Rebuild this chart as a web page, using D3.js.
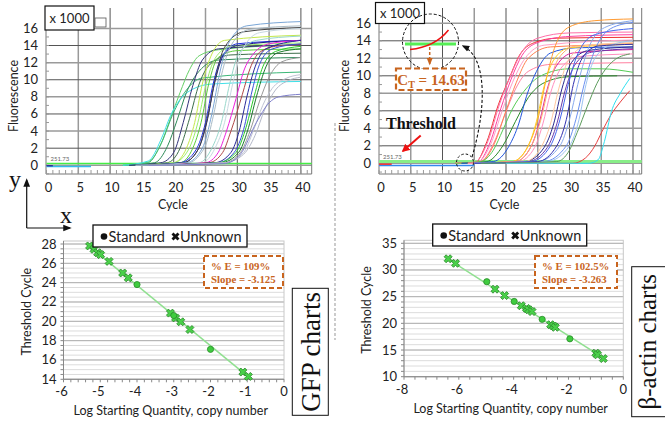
<!DOCTYPE html>
<html>
<head>
<meta charset="utf-8">
<script src="https://cdn.jsdelivr.net/npm/d3@7"></script>
<style>
  body { margin: 0; background: #fff; }
  svg { display: block; }
  text { font-family: Lato, "Open Sans", sans-serif; fill: #222; }
  .serif { font-family: "Liberation Serif", "DejaVu Serif", serif; }
</style>
</head>
<body>
<svg width="665" height="429"></svg>
<script>
// ---- amplification plots ----
const cycleTicks = [0, 5, 10, 15, 20, 25, 30, 35, 40];
const fluoTicks = [0, 2, 4, 6, 8, 10, 12, 14, 16];
const thresholdValue = 0.2;
const thresholdLabel = "251.73";

// GFP curves, [cycle, fluorescence x1000]
const gfpCurves = [
  { c: "#66d066", p: [[12,0],[16,0.4],[18,2.5],[19.5,5.5],[21,8.5],[22.5,11.2],[24,12.8],[27,13.5],[40,14.1]] },
  { c: "#3cb878", p: [[12,0],[16,0.3],[18,2.5],[20,6.2],[22,8.8],[24.5,10.2],[40,10.9]] },
  { c: "#40e0e8", p: [[12,0],[16,0.5],[18,3],[19.5,5.8],[21,7.7],[23,8.9],[26,9.5],[40,9.8]] },
  { c: "#2e8b57", p: [[13,0],[17,0.3],[19,2.2],[20.5,5.2],[22,8.5],[24,11],[27,12.3],[40,12.6]] },
  { c: "#33337a", p: [[13,0],[18,0.3],[20,1.5],[21.5,5],[23,9.3],[24.5,12.3],[27,13.6],[40,14.1]] },
  { c: "#3d6e4a", p: [[14,0],[19,0.3],[21,2],[22.5,5.5],[24,9.5],[26,12],[29,12.9],[40,13.1]] },
  { c: "#c4e84a", p: [[14,0],[20,0.3],[22,2],[23.3,5],[24.5,9.5],[26,13],[28,14.6],[40,15.2]] },
  { c: "#9aee6a", p: [[14,0],[20,0.3],[22.3,1.8],[23.8,5],[25,9.2],[26.5,12.5],[29,13.9],[40,14.3]] },
  { c: "#5acc3a", p: [[14,0],[21,0.3],[23,2],[24.3,5],[25.5,9.5],[27,12.6],[30,13.4],[40,13.6]] },
  { c: "#2030e0", p: [[14,0],[21,0.3],[23.5,1.8],[25,5],[26.2,9.5],[27.5,12.6],[30,14.2],[40,14.6]] },
  { c: "#1a1a80", p: [[14,0],[21.5,0.3],[23.8,1.8],[25.2,5],[26.4,9.5],[27.8,12.8],[30,14],[40,14.6]] },
  { c: "#444444", p: [[14,0],[21.5,0.3],[23.8,1.8],[25.3,5.5],[26.5,10],[28,13.8],[31,15.6],[40,16.1]] },
  { c: "#7aa6d6", p: [[14,0],[22,0.3],[24.5,2],[26,6],[27.3,11],[28.8,14.5],[31.5,16.3],[40,16.8]] },
  { c: "#aabbc6", p: [[14,0],[22,0.2],[24.8,2],[26.3,6],[27.5,10.5],[29,14],[32,15.9],[40,16.3]] },
  { c: "#9ad8cc", p: [[16,0],[24,0.3],[26,2],[27.5,5],[28.8,9.5],[30.2,13],[33,14.6],[40,15.1]] },
  { c: "#c8d8e0", p: [[16,0],[24.5,0.3],[26.5,2],[28,5],[29.3,9.6],[30.8,13.5],[33.5,15.5],[40,16]] },
  { c: "#ee22dd", p: [[16,0],[25,0.3],[27,1.5],[28.3,4],[29.8,7.8],[31,11],[32.5,13],[35,14.2],[40,14.6]] },
  { c: "#b04848", p: [[16,0],[25.5,0.3],[27.7,1.5],[29,4],[30.8,8.3],[32,11.3],[33.5,13.2],[36,13.9],[40,14.1]] },
  { c: "#2a2a9a", p: [[16,0],[26.5,0.3],[29,1.5],[30.3,4],[31.5,8],[32.8,11.5],[34.5,13.6],[40,14.6]] },
  { c: "#3850d8", p: [[16,0],[27,0.3],[29.5,1.5],[31,4.2],[32.2,8.3],[33.5,11.8],[35.5,13.6],[40,14.2]] },
  { c: "#2ccc2c", p: [[16,0],[27,0.3],[29.8,1.5],[31.2,4],[32.7,8.2],[34,11.5],[36,13.3],[40,13.9]] },
  { c: "#1d7a2c", p: [[16,0],[27.5,0.3],[30.2,1.5],[31.6,4],[33,8],[34.5,11.5],[36.5,13.2],[40,13.6]] },
  { c: "#999999", p: [[16,0],[28,0.3],[30.5,1.5],[32,4],[33.5,7.5],[35,10.3],[37,12.1],[40,12.6]] },
  { c: "#c0c4d4", p: [[16,0],[28,0.3],[31,1.5],[32.5,4],[34,7],[35.5,9],[37.5,10.1],[40,10.6]] },
  { c: "#b4b8c8", p: [[16,0],[28,0.3],[31,1.3],[32.8,3.5],[34.3,6.5],[36,8.8],[38,9.9],[40,10.3]] },
  { c: "#8080cc", p: [[16,0],[28,0.2],[30.5,1.3],[33,5],[35,7.3],[36.5,8],[40,8.3]] }
];
const gfpBaseline = [
  { c: "#33bbee", p: [[0,-0.15],[7,-0.15]] },
  { c: "#333399", p: [[0,-0.05],[1,-0.05]] }
];

// beta-actin curves
const actinCurves = [
  { c: "#ee3030", p: [[12,0],[15,0],[17,2.5],[18.8,6.7],[20.4,9.5],[22,12.2],[24.5,13.8],[28,14.3],[40,14.4]] },
  { c: "#ff6fa8", p: [[12,0],[15,0.1],[17.2,2.6],[19,6.8],[20.6,9.8],[22.3,12.5],[25,14.3],[30,14.9],[40,15]] },
  { c: "#ff40a0", p: [[12,0],[15.5,0.1],[17.5,2.4],[19.2,6.3],[20.8,9.6],[22.5,12.3],[25,13.8],[30,14.5],[40,14.7]] },
  { c: "#ffa0c8", p: [[12,0],[15.5,0.1],[17.6,2.2],[19.4,6],[21,9.2],[23,12],[26,13.5],[40,14.1]] },
  { c: "#ff80a0", p: [[12,0],[16,0.2],[18,2.2],[19.8,5.5],[21.5,8.5],[23.5,10.5],[27,11.3],[40,11.5]] },
  { c: "#ff8050", p: [[12,0],[16,0.2],[18.2,2.3],[20,6],[21.6,9.2],[23.5,12],[27,13.3],[40,13.6]] },
  { c: "#55cc55", p: [[12,0],[16,0.2],[18,1.5],[19.5,3.8],[21,6.2],[22.8,8.2],[25.5,10],[30,10.8],[35,10.8],[40,10.4]] },
  { c: "#2a8a2a", p: [[13,0],[17,0.2],[19.5,2],[21.5,4.8],[23.5,7.5],[26,9.2],[30,9.9],[37.5,10]] },
  { c: "#2255dd", p: [[13,0],[18,0.2],[20.5,2],[22,4.5],[23.2,7.6],[24.8,10.5],[27,12.6],[31,13.2],[40,13.3]] },
  { c: "#ff9a30", p: [[14,0],[21,0.2],[23.5,2],[25,5],[26.3,9.5],[27.8,13.5],[30,15.6],[34,16.3],[40,16.5]] },
  { c: "#ffd020", p: [[14,0],[21,0.2],[23.5,2],[24.8,4.8],[26,8.8],[27.5,11.8],[30,13.2],[40,13.6]] },
  { c: "#e0209a", p: [[14,0],[21.5,0.2],[24,2],[25.3,4.8],[26.5,8.5],[28,11.2],[30.5,12.6],[40,13]] },
  { c: "#ffb070", p: [[14,0],[21.5,0.2],[24,2],[25.5,5],[26.8,9],[28.3,12],[31,13.4],[40,13.7]] },
  { c: "#ff90c0", p: [[14,0],[22,0.2],[24.5,1.8],[25.8,4.5],[27,8],[28.8,11],[31.5,12.2],[40,12.5]] },
  { c: "#28288e", p: [[15,0],[23,0.2],[26,1.8],[27.5,4.5],[28.8,8.5],[30.3,11.5],[33,12.9],[40,13.3]] },
  { c: "#6a3aaa", p: [[15,0],[23.5,0.2],[26.5,1.8],[28,4.5],[29.3,8.3],[30.8,11.2],[33.5,12.7],[40,13.1]] },
  { c: "#ffc8a0", p: [[15,0],[23,0.2],[25.5,1.8],[27,4.5],[28.3,8.5],[30,12],[33,13.5],[40,13.8]] },
  { c: "#4466ee", p: [[15,0],[24,0.2],[27,2],[28.5,5],[29.8,9],[31.3,12.5],[34,14.7],[40,15.4]] },
  { c: "#88aaee", p: [[15,0],[25,0.2],[28.5,2],[30,5],[31.3,9],[32.8,12.8],[35.5,15.5],[40,16.3]] },
  { c: "#6a8ff0", p: [[15,0],[26,0.2],[29.5,2],[31,5],[32.3,9],[33.8,12.6],[36.5,15.4],[40,16.1]] },
  { c: "#9cc4f0", p: [[15,0],[26.5,0.2],[30,2],[31.5,5],[32.6,9],[34,12],[36.5,13.5],[40,14]] },
  { c: "#3030b0", p: [[15,0],[25,0.2],[28,2],[29.5,5],[30.6,9],[32,12],[34.5,13.4],[40,13.6]] },
  { c: "#5c9c5c", p: [[16,0],[28,0.2],[30,1.5],[31.2,3.5],[32.8,6.5],[34.3,9.1],[36.9,11.7],[39.5,12.5]] },
  { c: "#e84040", p: [[20,0],[30.5,0],[32.5,0.6],[34,2],[35.1,3.6],[36.5,5.5],[38,7],[39.5,8.3]] },
  { c: "#30e0f0", p: [[20,0],[33,0],[34.5,0.4],[35.5,2.5],[36.6,5.9],[38,8],[39.5,9.7]] }
];
const actinBaseline = [
  { c: "#3388ee", p: [[0,-0.25],[15,-0.25]] },
  { c: "#ee3030", p: [[0,-0.1],[2,-0.1]] }
];

// ---- standard curves ----
const gfpLogTicks = [-6, -5, -4, -3, -2, -1, 0];
const gfpCtTicks = [14, 16, 18, 20, 22, 24, 26, 28];
const gfpStandards = [[-4, 23.8], [-3, 20.6], [-2, 17.1]];
const gfpUnknowns = [[-5.29,27.8],[-5.17,27.45],[-5.07,27.1],[-4.99,26.9],[-4.76,26.2],[-4.39,25.0],[-4.24,24.5],
  [-3.09,20.85],[-2.95,20.35],[-2.81,19.95],[-2.56,19.15],[-1.12,14.75],[-0.97,14.3]];
const gfpSlope = -3.125;
const gfpEff = "109%";

const actinLogTicks = [-8, -6, -4, -2, 0];
const actinCtTicks = [10, 15, 20, 25, 30, 35];
const actinStandards = [[-4.98, 27.8], [-3.98, 24.1], [-2.96, 20.75], [-1.95, 17.1]];
const actinUnknowns = [[-6.39,32.1],[-6.12,31.25],[-4.68,26.4],[-4.33,25.2],[-3.72,23.3],[-3.53,22.8],[-3.45,22.55],
  [-3.33,22.2],[-2.65,19.75],[-2.55,19.5],[-2.48,19.25],[-1.0,14.4],[-0.94,14.1],[-0.73,13.4]];
const actinSlope = -3.263;
const actinEff = "102.5%";

const svg = d3.select("svg");
const orange = "#c8641e";

svg.append("defs").html(`
  <marker id="blk" viewBox="0 0 10 10" refX="8" refY="5" markerWidth="7" markerHeight="7" orient="auto">
    <path d="M0,1 L10,5 L0,9 z" fill="#111"/></marker>
  <marker id="red" viewBox="0 0 10 10" refX="8" refY="5" markerWidth="4" markerHeight="4" orient="auto">
    <path d="M0,0 L10,5 L0,10 z" fill="#ee1111"/></marker>
  <marker id="org" viewBox="0 0 10 10" refX="8" refY="5" markerWidth="5" markerHeight="5" orient="auto">
    <path d="M0,1 L10,5 L0,9 z" fill="${orange}"/></marker>`);

function ampChart(o) {
  const g = svg.append("g");
  const x = d3.scaleLinear().domain([0, 40]).range([o.x0, o.x40]);
  const y = d3.scaleLinear().domain([0, 16]).range([o.y0, o.y16]);

  g.selectAll(".vg").data(cycleTicks.slice(1)).join("line")
    .attr("x1", d => x(d)).attr("x2", d => x(d))
    .attr("y1", o.top).attr("y2", o.bottom)
    .attr("stroke", (d, i) => i % 2 ? "#555" : "#999").attr("stroke-width", (d, i) => i % 2 ? 1 : 1.5);
  g.selectAll(".hg").data(fluoTicks).join("line")
    .attr("x1", o.left).attr("x2", o.right)
    .attr("y1", d => y(d)).attr("y2", d => y(d))
    .attr("stroke", (d, i) => i % 2 ? "#555" : "#9a9a9a").attr("stroke-width", (d, i) => i % 2 ? 1 : 1.5);

  // frame
  g.append("line").attr("x1", o.left).attr("x2", o.left).attr("y1", o.top).attr("y2", o.bottom).attr("stroke", "#777");
  g.append("line").attr("x1", o.right).attr("x2", o.right).attr("y1", o.top).attr("y2", o.bottom).attr("stroke", "#777");
  g.append("line").attr("x1", o.left).attr("x2", o.right).attr("y1", o.bottom).attr("y2", o.bottom).attr("stroke", "#777");
  g.selectAll(".mt").data(d3.range(0, 42)).join("line")
    .attr("x1", d => x(d)).attr("x2", d => x(d))
    .attr("y1", o.bottom).attr("y2", o.bottom - 4).attr("stroke", "#999");
  g.selectAll(".my").data(d3.range(-1, 18)).join("line")
    .attr("x1", o.left).attr("x2", o.left + 3)
    .attr("y1", d => y(d)).attr("y2", d => y(d)).attr("stroke", "#999");

  // threshold
  g.append("line").attr("x1", x(0)).attr("x2", o.right)
    .attr("y1", y(thresholdValue)).attr("y2", y(thresholdValue))
    .attr("stroke", o.thrColor).attr("stroke-width", o.thrWidth);
  g.append("text").attr("x", x(0) + 4).attr("y", y(0) - 4)
    .attr("font-size", 6).style("fill", "#666").text(thresholdLabel);

  const line = d3.line().x(d => x(d[0])).y(d => y(d[1])).curve(d3.curveMonotoneX);
  g.selectAll(".base").data(o.baseline).join("path")
    .attr("d", d => line(d.p)).attr("fill", "none").attr("stroke", d => d.c).attr("stroke-width", 1.5);
  g.selectAll(".curve").data(o.curves).join("path")
    .attr("d", d => line(d.p)).attr("fill", "none").attr("stroke", d => d.c).attr("stroke-width", 1);

  g.selectAll(".yl").data(fluoTicks).join("text")
    .attr("x", o.left - 8).attr("y", d => y(d) + 4.5)
    .attr("text-anchor", "end").attr("font-size", 13).text(d => d);
  g.selectAll(".xl").data(cycleTicks).join("text")
    .attr("x", d => x(d) + 2).attr("y", o.bottom + 18)
    .attr("text-anchor", "middle").attr("font-size", 13).text(d => d);
  g.append("text").attr("x", (o.left + o.right) / 2 - 6).attr("y", o.bottom + 35)
    .attr("text-anchor", "middle").attr("font-size", 12.5).text("Cycle");
  g.append("text").attr("transform", `translate(${o.labelX},${(o.top + o.bottom) / 2 + 5}) rotate(-90)`)
    .attr("text-anchor", "middle").attr("font-size", 12.5).text("Fluorescence");

  // x 1000 box
  g.append("rect").attr("x", o.boxX).attr("y", o.boxY).attr("width", 49).attr("height", o.boxH)
    .attr("fill", "#fff").attr("stroke", "#111").attr("stroke-width", 1.2);
  g.append("text").attr("x", o.boxX + 24.5).attr("y", o.boxY + o.boxH / 2 + 4.5)
    .attr("text-anchor", "middle").attr("font-size", 13).text("x 1000");
  return { x, y };
}

const left = ampChart({
  x0: 46.5, x40: 300.9, y0: 165.3, y16: 28.4, left: 46, right: 311.7, top: 8, bottom: 174,
  curves: gfpCurves, baseline: gfpBaseline, thrColor: "#44ee44", thrWidth: 1.5, labelX: 18,
  boxX: 45, boxY: 6, boxH: 24
});
svg.append("rect").attr("x", 95).attr("y", 18).attr("width", 11).attr("height", 9)
  .attr("fill", "#fff").attr("stroke", "#555").attr("stroke-width", 0.8);

const right = ampChart({
  x0: 379, x40: 633, y0: 163.3, y16: 23.3, left: 379, right: 641.7, top: 8, bottom: 174,
  curves: actinCurves, baseline: actinBaseline, thrColor: "#88ee88", thrWidth: 3, labelX: 349,
  boxX: 375.5, boxY: 2.5, boxH: 21
});

// ---- C_T annotation on the beta-actin plot ----
const ann = svg.append("g");
ann.append("circle").attr("cx", 430.5).attr("cy", 42).attr("r", 28)
  .attr("fill", "none").attr("stroke", "#111").attr("stroke-dasharray", "3,2");
ann.append("line").attr("x1", 405).attr("x2", 456).attr("y1", 44).attr("y2", 44)
  .attr("stroke", "#55ee55").attr("stroke-width", 3);
ann.append("path").attr("d", "M410,49.5 Q435,47 448.5,30").attr("fill", "none")
  .attr("stroke", "#ee1111").attr("stroke-width", 1.5);
ann.append("line").attr("x1", 429.7).attr("x2", 429.7).attr("y1", 47).attr("y2", 64)
  .attr("stroke", orange).attr("stroke-width", 1.5).attr("stroke-dasharray", "3,2").attr("marker-end", "url(#org)");
ann.append("rect").attr("x", 396).attr("y", 68.5).attr("width", 70).attr("height", 21.5)
  .attr("fill", "#fff").attr("stroke", orange).attr("stroke-width", 2.2).attr("stroke-dasharray", "6,3");
const ct = ann.append("text").attr("class", "serif").attr("x", 431).attr("y", 84.5)
  .attr("text-anchor", "middle").attr("font-size", 15).attr("font-weight", "bold").style("fill", orange);
ct.append("tspan").text("C");
ct.append("tspan").attr("font-size", 10).attr("dy", 3).text("T");
ct.append("tspan").attr("dy", -3).text(" = 14.63");
ann.append("circle").attr("cx", 465).attr("cy", 162.5).attr("r", 8.5)
  .attr("fill", "none").attr("stroke", "#111").attr("stroke-dasharray", "2.5,2");
ann.append("path").attr("d", "M472,157 C486,110 488,58 463,46").attr("fill", "none")
  .attr("stroke", "#111").attr("stroke-width", 1.1).attr("stroke-dasharray", "3,2").attr("marker-end", "url(#blk)");
ann.append("text").attr("class", "serif").attr("x", 421).attr("y", 128.5)
  .attr("text-anchor", "middle").attr("font-size", 16).attr("font-weight", "bold").style("fill", "#111").text("Threshold");
ann.append("line").attr("x1", 420.7).attr("y1", 135.5).attr("x2", 403).attr("y2", 151)
  .attr("stroke", "#ee1111").attr("stroke-width", 2).attr("marker-end", "url(#red)");

// divider
svg.append("line").attr("x1", 335).attr("x2", 335).attr("y1", 123).attr("y2", 340)
  .attr("stroke", "#aaa").attr("stroke-width", 1.2).attr("stroke-dasharray", "3,2");

// axis sketch
svg.append("path").attr("d", "M26.7,228 L26.7,180").attr("stroke", "#111").attr("stroke-width", 1.2).attr("marker-end", "url(#blk)");
svg.append("path").attr("d", "M26.7,228 L70,228").attr("stroke", "#111").attr("stroke-width", 1.2).attr("marker-end", "url(#blk)");
svg.append("text").attr("class", "serif").attr("x", 15).attr("y", 187).attr("text-anchor", "middle")
  .attr("font-size", 24).style("fill", "#111").text("y");
svg.append("text").attr("class", "serif").attr("x", 66).attr("y", 223).attr("text-anchor", "middle")
  .attr("font-size", 24).style("fill", "#111").text("x");

// ---- standard curve panels ----
function stdChart(o) {
  const g = svg.append("g");
  const x = d3.scaleLinear().domain(o.xd).range([o.left, o.right]);
  const y = d3.scaleLinear().domain(o.yd).range([o.bottom, o.top]);
  g.selectAll(".minor").data(d3.range(o.yd[0], o.yd[1] + 0.01, o.minor)).join("line")
    .attr("x1", o.left).attr("x2", o.right).attr("y1", d => y(d)).attr("y2", d => y(d))
    .attr("stroke", "#dcdcdc").attr("stroke-width", 1);
  g.selectAll(".major").data(o.yTicks).join("line")
    .attr("x1", o.left).attr("x2", o.right).attr("y1", d => y(d)).attr("y2", d => y(d))
    .attr("stroke", "#b0b0b0").attr("stroke-width", 1);
  g.append("rect").attr("x", o.left).attr("y", o.top - 3).attr("width", o.right - o.left)
    .attr("height", o.bottom - o.top + 3).attr("fill", "none").attr("stroke", "#c8c8c8");
  g.append("line").attr("x1", o.left).attr("x2", o.left).attr("y1", o.top - 3).attr("y2", o.bottom).attr("stroke", "#888");
  g.append("line").attr("x1", o.left).attr("x2", o.right).attr("y1", o.bottom).attr("y2", o.bottom).attr("stroke", "#888");
  g.selectAll(".ytk").data(d3.range(o.yd[0], o.yd[1] + 0.01, o.minor)).join("line")
    .attr("x1", o.left - 3).attr("x2", o.left).attr("y1", d => y(d)).attr("y2", d => y(d)).attr("stroke", "#888");
  g.selectAll(".xtk").data(d3.range(o.xd[0], o.xd[1] + 0.01, o.xMinor)).join("line")
    .attr("x1", d => x(d)).attr("x2", d => x(d)).attr("y1", o.bottom).attr("y2", o.bottom + 3).attr("stroke", "#888");

  // regression line with the reported slope, through the centroid of the points
  const all = o.standards.concat(o.unknowns);
  const mx = d3.mean(all, d => d[0]), my = d3.mean(all, d => d[1]);
  const ex = d3.extent(all, d => d[0]);
  g.append("line").attr("x1", x(ex[0])).attr("x2", x(ex[1]))
    .attr("y1", y(my + o.slope * (ex[0] - mx))).attr("y2", y(my + o.slope * (ex[1] - mx)))
    .attr("stroke", "#90e090").attr("stroke-width", 1.5);

  const xs = d3.symbol(d3.symbolCross).size(40);
  g.selectAll(".unk").data(o.unknowns).join("path")
    .attr("d", xs).attr("transform", d => `translate(${x(d[0])},${y(d[1])}) rotate(45)`)
    .attr("fill", "#4ad04a").attr("stroke", "#2a8a2a").attr("stroke-width", 0.8);
  g.selectAll(".std").data(o.standards).join("circle")
    .attr("cx", d => x(d[0])).attr("cy", d => y(d[1])).attr("r", 3.1)
    .attr("fill", "#3fcc3f").attr("stroke", "#2a8a2a").attr("stroke-width", 0.8);

  g.selectAll(".yl").data(o.yTicks).join("text")
    .attr("x", o.left - 7).attr("y", d => y(d) + 4.5).attr("text-anchor", "end").attr("font-size", 13).text(d => d);
  g.selectAll(".xl").data(o.xTicks).join("text")
    .attr("x", d => x(d) - (d < 0 ? 2 : 0)).attr("y", o.bottom + 17).attr("text-anchor", "middle").attr("font-size", 13)
    .text(d => d < 0 ? "-" + Math.abs(d) : d);
  g.append("text").attr("x", (o.left + o.right) / 2 - 3).attr("y", o.bottom + 36).attr("text-anchor", "middle")
    .attr("font-size", 12.5).text("Log Starting Quantity, copy number");
  g.append("text").attr("transform", `translate(${o.labelX},${(o.top + o.bottom) / 2}) rotate(-90)`)
    .attr("text-anchor", "middle").attr("font-size", 12.5).text("Threshold Cycle");

  // legend
  const lg = g.append("g").attr("transform", `translate(${o.legX},${o.legY})`);
  lg.append("rect").attr("width", 154).attr("height", 22).attr("fill", "#fff").attr("stroke", "#111").attr("stroke-width", 1.3);
  lg.append("circle").attr("cx", 11).attr("cy", 11.5).attr("r", 3.3).attr("fill", "#111");
  lg.append("text").attr("x", 15.5).attr("y", 16.5).attr("font-size", 14.5).text("Standard");
  lg.append("path").attr("d", d3.symbol(d3.symbolCross).size(40)).attr("transform", "translate(82.5,11.5) rotate(45)").attr("fill", "#111");
  lg.append("text").attr("x", 87).attr("y", 16.5).attr("font-size", 14.5).text("Unknown");

  // efficiency box
  const eb = g.append("g").attr("transform", `translate(${o.boxX},${o.boxY})`);
  eb.append("rect").attr("width", o.boxW).attr("height", 32).attr("fill", "#fff")
    .attr("stroke", orange).attr("stroke-width", 2).attr("stroke-dasharray", "5,3");
  eb.append("text").attr("class", "serif").attr("x", 7).attr("y", 14).attr("font-size", 10.8).attr("font-weight", "bold")
    .style("fill", orange).text("% E = " + o.eff);
  eb.append("text").attr("class", "serif").attr("x", 7).attr("y", 27).attr("font-size", 10.8).attr("font-weight", "bold")
    .style("fill", orange).text("Slope = -" + Math.abs(o.slope).toFixed(3));

  // side title
  g.append("rect").attr("x", o.tX).attr("y", o.tY).attr("width", o.tW).attr("height", o.tH)
    .attr("fill", "#fff").attr("stroke", "#111").attr("stroke-width", 1);
  g.append("text").attr("class", "serif")
    .attr("transform", `translate(${o.tBase},${o.tY + o.tH / 2}) rotate(-90)`)
    .attr("text-anchor", "middle").attr("font-size", o.tSize).style("fill", "#111").text(o.title);
}

stdChart({
  xd: [-6, 0], yd: [14, 28], left: 63.5, right: 284, bottom: 379.3, top: 244, minor: 0.5, xMinor: 0.2,
  xTicks: gfpLogTicks, yTicks: gfpCtTicks, standards: gfpStandards, unknowns: gfpUnknowns, slope: gfpSlope, eff: gfpEff,
  labelX: 31, legX: 93, legY: 225, boxX: 204, boxY: 256, boxW: 79,
  tX: 292.3, tY: 288.3, tW: 36, tH: 127, tBase: 319.5, tSize: 27, title: "GFP charts"
});
stdChart({
  xd: [-8, 0], yd: [10, 35], left: 404, right: 623.3, bottom: 376.7, top: 243.3, minor: 1, xMinor: 0.4,
  xTicks: actinLogTicks, yTicks: actinCtTicks, standards: actinStandards, unknowns: actinUnknowns, slope: actinSlope, eff: actinEff,
  labelX: 371, legX: 432.7, legY: 224, boxX: 535, boxY: 256, boxW: 82,
  tX: 631.7, tY: 266.7, tW: 40, tH: 150, tBase: 656, tSize: 25, title: "β-actin charts"
});
</script>
</body>
</html>
